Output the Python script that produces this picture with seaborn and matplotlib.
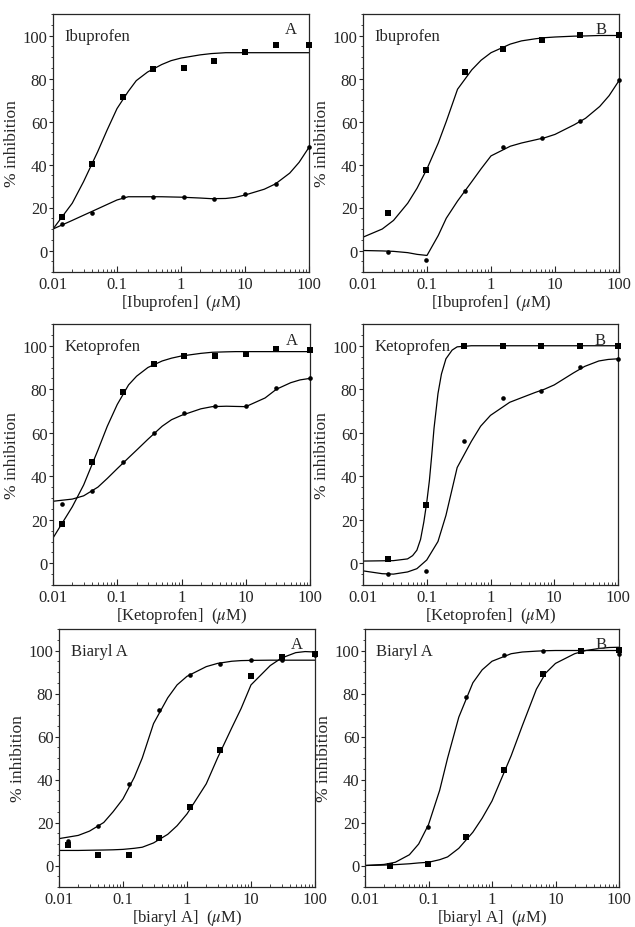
import numpy as np
import matplotlib
matplotlib.use("Agg")
import matplotlib.pyplot as plt
from matplotlib.ticker import NullFormatter, MultipleLocator
import seaborn as sns

# dilution series (uM)
x_3fold = [0.0137, 0.041, 0.123, 0.37, 1.11, 3.33, 10, 30, 100]
x_4fold = [0.0244, 0.0977, 0.39, 1.56, 6.25, 25, 100]

fit_x = [0.01, 0.02, 0.03, 0.05, 0.07, 0.1, 0.15, 0.2, 0.3, 0.5, 0.7,
         1, 2, 3, 5, 7, 10, 20, 30, 50, 70, 100]

# Ibuprofen, A
ibu_a_sq = [15.8, 40.3, 71.5, 84.3, 84.8, 88.2, 92.1, 95.7, 95.7]
ibu_a_ci = [12.2, 17.4, 25.0, 25.0, 24.7, 23.9, 26.5, 31.0, 48.2]
ibu_a_sq_fit = [10, 22, 32, 46, 56, 66, 74, 79, 83, 86.5, 88.3,
                89.5, 91, 91.6, 92, 92, 92, 92, 92, 92, 92, 92]
ibu_a_ci_fit = [10, 14, 16.4, 19.4, 21.4, 23.5, 25, 25, 25, 25, 24.9,
                24.8, 24.4, 24.1, 24.2, 24.7, 25.8, 28.5, 31, 36, 41, 48]

# Ibuprofen, B
ibu_b_sq = [17.6, 37.3, 83.2, 93.8, 98.0, 100.3, 100.3]
ibu_b_ci = [-0.5, -4.4, 27.5, 48.2, 52.4, 60.2, 79.3]
ibu_b_sq_fit = [6.2, 10, 14, 22, 29, 38, 50, 60, 75, 84, 88.5,
                92, 96, 97.5, 98.5, 99, 99.3, 99.7, 99.8, 100, 100, 100]
ibu_b_ci_fit = [0, -0.2, -0.4, -1, -1.8, -2.3, 7, 15, 23, 32, 38,
                44, 48.5, 50, 51.5, 52.5, 54, 58.5, 61.5, 67, 72, 79]

# Ketoprofen, A
keto_a_sq = [17.9, 46.6, 78.8, 91.7, 95.3, 95.3, 96.0, 98.7, 98.0]
keto_a_ci = [27.3, 33.3, 46.6, 60.0, 69.0, 72.2, 72.2, 80.4, 85.0]
keto_a_sq_fit = [11.6, 26, 36, 52, 63, 73, 82, 86, 90, 93, 94.3,
                 95.3, 96.5, 97, 97.2, 97.3, 97.3, 97.3, 97.3, 97.3, 97.3, 97.3]
keto_a_ci_fit = [28.5, 29.5, 31, 35, 39, 43.5, 48.5, 52, 57, 63, 66,
                 68, 71, 72, 72.2, 72.1, 72, 76, 80, 83, 84.3, 85]

# Ketoprofen, B (steep curve needs its own x grid)
keto_b_sq = [1.9, 26.7, 100, 100, 100, 100, 100]
keto_b_ci = [-5.1, -3.6, 56.4, 75.8, 79.1, 90.2, 93.8]
keto_b_sq_fit_x = [0.01, 0.03, 0.05, 0.06, 0.07, 0.08, 0.09, 0.1, 0.11, 0.12,
                   0.13, 0.15, 0.17, 0.2, 0.25, 0.3, 0.5, 1, 10, 100]
keto_b_sq_fit = [1, 1.2, 2, 3.5, 6, 11, 19, 28, 38, 50,
                 62, 78, 87, 94, 98, 99.5, 100, 100, 100, 100]
keto_b_ci_fit = [-3.5, -4.8, -5, -4, -2.5, 1.5, 10, 22, 44, 56, 63,
                 68, 74, 76, 78.5, 80, 82, 87.5, 90.5, 93, 93.7, 94]

# Biaryl A, A
bia_a_sq = [9.5, 5.1, 5.1, 12.8, 27.0, 53.7, 88.0, 97.2, 98.5]
bia_a_ci = [11.5, 18.2, 37.8, 72.5, 88.7, 93.5, 95.4, 95.4, 98.0]
bia_a_sq_fit = [7, 7, 7.1, 7.2, 7.3, 7.5, 8, 8.5, 10.5, 14.5, 18.5,
                24, 38, 50, 64, 73, 84, 93, 96.5, 99, 99.5, 99.3]
bia_a_ci_fit = [12.5, 14, 16, 20, 25, 31, 41, 50, 66, 78, 84,
                88, 92.5, 94, 95, 95.3, 95.4, 95.5, 95.5, 95.5, 95.5, 95.5]

# Biaryl A, B
bia_b_sq = [0.0, 0.5, 13.2, 44.2, 89.1, 100, 100.3]
bia_b_ci = [0.0, 18.1, 78.3, 97.7, 100, 100, 98.5]
bia_b_sq_fit = [0, 0.2, 0.4, 0.8, 1.2, 1.5, 2.7, 4, 8, 15.5, 22,
                30, 51, 65, 82, 89.5, 94, 98.5, 100, 101, 101.4, 101.5]
bia_b_ci_fit = [0, 0.5, 1.5, 5, 10, 19, 35, 50, 69, 85, 91,
                95, 98.5, 99.3, 99.7, 99.9, 100, 100, 100, 100, 100, 100]

panels = [
    # (name, letter, x label, pts x, sq, ci, fit x sq, sq fit, ci fit, box px)
    ("Ibuprofen", "A", "Ibuprofen", x_3fold, ibu_a_sq, ibu_a_ci,
     fit_x, ibu_a_sq_fit, ibu_a_ci_fit, (53, 15, 309, 273)),
    ("Ibuprofen", "B", "Ibuprofen", x_4fold, ibu_b_sq, ibu_b_ci,
     fit_x, ibu_b_sq_fit, ibu_b_ci_fit, (363, 15, 619, 273)),
    ("Ketoprofen", "A", "Ketoprofen", x_3fold, keto_a_sq, keto_a_ci,
     fit_x, keto_a_sq_fit, keto_a_ci_fit, (53, 325, 310, 586)),
    ("Ketoprofen", "B", "Ketoprofen", x_4fold, keto_b_sq, keto_b_ci,
     keto_b_sq_fit_x, keto_b_sq_fit, keto_b_ci_fit, (363, 325, 618, 586)),
    ("Biaryl A", "A", "biaryl A", x_3fold, bia_a_sq, bia_a_ci,
     fit_x, bia_a_sq_fit, bia_a_ci_fit, (59, 630, 315, 888)),
    ("Biaryl A", "B", "biaryl A", x_4fold, bia_b_sq, bia_b_ci,
     fit_x, bia_b_sq_fit, bia_b_ci_fit, (365, 630, 619, 888)),
]

sns.set_style("ticks")
plt.rcParams["font.family"] = ["Liberation Serif", "DejaVu Serif"]
plt.rcParams["mathtext.fontset"] = "stix"

W, H = 635, 928
fig = plt.figure(figsize=(W / 100, H / 100), dpi=100)

for name, letter, xlab, px, sq, ci, sq_fx, sq_fit, ci_fit, box in panels:
    l, t, r, b = box
    ax = fig.add_axes([l / W, 1 - b / H, (r - l) / W, (b - t) / H])
    ax.set_xscale("log")

    sns.lineplot(x=sq_fx, y=sq_fit, ax=ax, color="black", lw=0.9,
                 sort=False, estimator=None)
    sns.lineplot(x=fit_x, y=ci_fit, ax=ax, color="black", lw=0.9,
                 sort=False, estimator=None)
    sns.scatterplot(x=px, y=sq, ax=ax, marker="s", s=13, color="black",
                    linewidth=0, clip_on=False, zorder=5)
    sns.scatterplot(x=px, y=ci, ax=ax, marker="o", s=11, color="black",
                    linewidth=0, clip_on=False, zorder=5)

    ax.set_xlim(0.01, 100)
    ax.set_ylim(-10, 110)
    ax.set_xticks([0.01, 0.1, 1, 10, 100])
    ax.set_xticklabels(["0.01", "0.1", "1", "10", "100"])
    ax.xaxis.set_minor_formatter(NullFormatter())
    ax.set_yticks([0, 20, 40, 60, 80, 100])
    ax.yaxis.set_minor_locator(MultipleLocator(5))
    ax.tick_params(axis="x", which="major", direction="in", length=4,
                   width=0.8, labelsize=12, pad=3)
    ax.tick_params(axis="x", which="minor", direction="in", length=2,
                   width=0.6)
    ax.tick_params(axis="y", which="major", direction="out", length=3,
                   width=0.8, labelsize=12, pad=1)
    ax.tick_params(axis="y", which="minor", direction="out", length=1.5,
                   width=0.6)
    for sp in ax.spines.values():
        sp.set_linewidth(0.9)
        sp.set_visible(True)

    ax.set_ylabel("% inhibition", fontsize=12.5, labelpad=2)
    ax.set_xlabel("[" + xlab + r"]  ($\mu$M)", fontsize=12, labelpad=0)
    ax.text(0.045, 0.915, name, transform=ax.transAxes, fontsize=12,
            ha="left", va="center")
    ax.text(0.93, 0.94, letter, transform=ax.transAxes, fontsize=12,
            ha="center", va="center")

fig.savefig("out.png", dpi=100)
